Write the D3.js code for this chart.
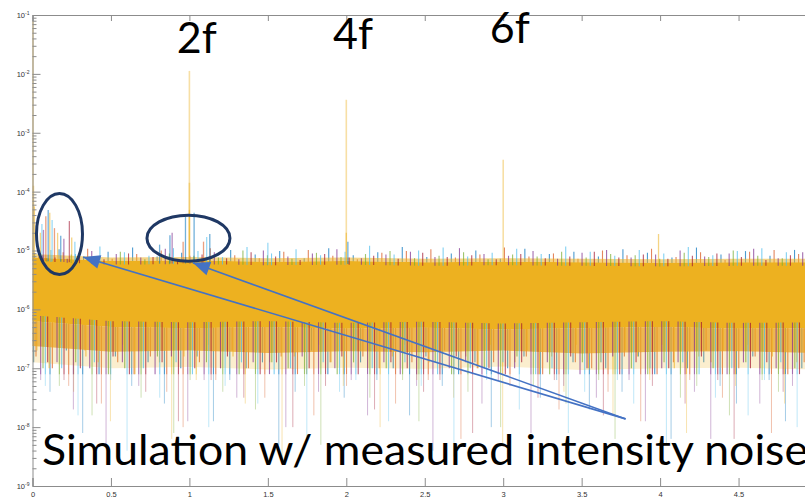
<!DOCTYPE html>
<html>
<head>
<meta charset="utf-8">
<script src="https://cdn.jsdelivr.net/npm/d3@7"></script>
<style>
  body { margin: 0; background: #fff; }
  svg { display: block; }
</style>
</head>
<body>
<div id="chart"></div>
<script>
// all values are log10 of the spectral power
const xTicks = [0, 0.5, 1, 1.5, 2, 2.5, 3, 3.5, 4, 4.5];
const yTickExp = [-9, -8, -7, -6, -5, -4, -3, -2, -1];

// solid core of the noise floor and its ragged edges
const bandFreq = [0, 0.5, 1, 1.5, 2, 2.5, 3, 3.5, 4, 4.5, 5];
const bandTopExp = [-5.12, -5.18, -5.17, -5.19, -5.18, -5.2, -5.19, -5.2, -5.21, -5.2, -5.2];
const bandBottomExp = [-6.2, -6.3, -6.32, -6.3, -6.33, -6.31, -6.34, -6.32, -6.3, -6.33, -6.32];
const fringeUpExp = [-5.06, -5.12, -5.11, -5.13, -5.12, -5.14, -5.13, -5.14, -5.15, -5.14, -5.14];
const fringeLowExp = [-6.62, -6.72, -6.7, -6.74, -6.71, -6.73, -6.7, -6.75, -6.72, -6.71, -6.74];
const fringeFarExp = [-6.9, -7.0, -6.98, -7.02, -6.99, -7.01, -6.97, -7.03, -7.0, -6.99, -7.02];

// lower noise tips, one array per run
const lowBlue = [-6.9,-7.4,-6.7,-8.1,-7.1,-6.8,-7.3,-6.9,-7.6,-7.0,-6.8,-7.9,-7.2,-7.0,-6.9,-8.3,-7.4,-6.7,-7.1,-7.5,-6.9,-7.2,-7.0,-7.8,-6.8,-7.3,-7.1,-6.9,-8.0,-7.0,-6.8,-7.5,-7.2,-6.9,-7.7,-7.0,-7.4,-6.8,-7.1,-8.2,-7.0,-6.9,-7.3,-7.6,-6.8,-7.2,-7.9,-7.0];
const lowRed = [-6.8,-7.0,-7.3,-6.7,-7.6,-6.9,-7.1,-6.8,-7.4,-8.0,-6.9,-7.2,-6.7,-7.0,-7.5,-6.8,-7.1,-7.8,-6.9,-7.3,-6.8,-7.0,-7.6,-6.9,-7.2,-6.7,-8.2,-7.0,-6.9,-7.3,-6.8,-7.1,-7.7,-6.9,-7.0,-7.4,-6.8,-7.9,-7.1,-6.9,-7.2,-6.7,-7.5,-7.0,-6.8,-8.1,-7.1,-6.9];
const lowYellow = [-6.7,-7.0,-6.6,-7.4,-6.8,-6.9,-7.9,-6.6,-7.1,-6.7,-6.9,-8.2,-6.8,-7.2,-6.6,-7.0,-6.8,-7.6,-6.7,-6.9,-8.6,-6.8,-7.1,-6.6,-6.9,-7.3,-6.7,-7.0,-8.0,-6.8,-6.6,-7.2,-6.9,-6.7,-7.5,-6.8,-7.0,-6.6,-8.3,-6.9,-6.7,-7.1,-6.8,-7.4,-6.6,-7.0,-6.9,-7.8,-6.7,-6.8,-7.2,-6.6,-7.0,-8.1,-6.8,-6.9,-6.7,-7.3,-6.6,-7.0,-6.8,-7.6,-6.9,-6.7];
const lowPurple = [-7.2,-6.9,-7.7,-7.0,-8.3,-6.9,-7.3,-7.1,-6.8,-7.9,-7.2,-7.0,-7.5,-6.9,-7.1,-8.0,-6.8,-7.4,-7.0,-7.2,-7.8,-6.9,-7.1,-7.3,-8.4,-7.0,-6.9,-7.6,-7.2,-7.0,-8.1,-6.9,-7.3,-7.1,-7.5,-6.8,-7.2,-7.9,-7.0,-6.9,-7.4,-8.2,-7.1,-6.9,-7.6,-7.0,-7.3,-8.0];
const lowGreen = [-7.0,-7.3,-6.9,-7.8,-7.1,-7.0,-7.5,-6.8,-8.1,-7.2,-6.9,-7.4,-7.1,-7.7,-6.9,-7.0,-7.3,-8.3,-7.1,-6.9,-7.5,-7.0,-7.2,-7.9,-6.9,-7.1,-7.4,-7.0,-8.0,-6.8,-7.3,-7.1,-7.6,-6.9,-7.2,-8.2,-7.0,-7.1,-6.9,-7.5,-7.3,-7.0,-7.8,-6.9,-7.2,-7.4,-7.0,-8.1];
const lowCyan = [-7.3,-7.0,-7.8,-6.9,-7.2,-8.4,-7.0,-7.5,-6.9,-7.1,-8.0,-7.3,-6.9,-7.6,-7.1,-7.0,-8.2,-6.9,-7.4,-7.2,-7.0,-7.9,-6.9,-7.3,-7.1,-8.5,-7.0,-7.2,-6.9,-7.7,-7.1,-7.0,-8.1,-7.4,-6.9,-7.2,-7.6,-7.0,-8.3,-6.9,-7.1,-7.5,-7.0,-7.8,-7.2,-6.9,-8.0,-7.1];
const lowMaroon = [-6.9,-7.2,-7.0,-7.6,-6.8,-7.1,-7.4,-6.9,-7.9,-7.0,-7.2,-6.8,-7.5,-7.1,-6.9,-8.0,-7.0,-7.3,-6.8,-7.1,-7.7,-6.9,-7.0,-7.4,-7.2,-6.8,-8.1,-7.0,-7.1,-6.9,-7.5,-7.2,-6.8,-7.0,-7.8,-7.1,-6.9,-7.3,-7.0,-7.6,-6.8,-7.2,-8.2,-7.0,-6.9,-7.4,-7.1,-6.8];

// upper noise tips
const upBlue = [-5.05,-4.98,-5.12,-5.02,-4.95,-5.10,-5.04,-5.15,-4.99,-5.07,-5.01,-5.13,-4.96,-5.08,-5.03,-4.94,-5.11,-5.05,-5.00,-5.14,-4.97,-5.06,-5.02,-5.10,-4.98,-5.04,-5.12,-4.95,-5.07,-5.01,-5.09,-4.99];
const upRed = [-5.10,-5.03,-4.97,-5.14,-5.06,-5.00,-5.11,-4.96,-5.08,-5.13,-5.02,-4.99,-5.09,-5.15,-5.04,-5.01,-4.98,-5.12,-5.07,-4.95,-5.10,-5.05,-5.14,-5.00,-5.08,-4.97,-5.11,-5.03,-5.16,-5.02,-4.99,-5.06];
const upPurple = [-5.08,-5.14,-5.01,-5.06,-5.12,-4.97,-5.09,-5.03,-5.15,-5.00,-5.10,-5.05,-4.98,-5.13,-5.07,-5.02,-5.11,-4.96,-5.06,-5.09,-5.01,-5.14,-5.04,-4.99,-5.12,-5.07,-5.00,-5.10,-5.05,-4.97,-5.13,-5.03];
const upGreen = [-5.13,-5.07,-5.10,-5.02,-5.15,-5.05,-5.09,-5.12,-5.00,-5.08,-5.14,-5.04,-5.11,-5.06,-5.01,-5.13,-5.09,-5.03,-5.15,-5.07,-5.10,-5.02,-5.12,-5.06,-5.08,-5.14,-5.04,-5.11,-5.00,-5.09,-5.13,-5.05];
const upCyan = [-4.99,-5.06,-4.93,-5.03,-5.09,-4.96,-5.01,-5.11,-4.94,-5.05,-4.98,-5.08,-5.02,-4.92,-5.07,-5.00,-4.95,-5.10,-5.04,-4.97,-5.06,-4.93,-5.02,-5.09,-4.99,-5.05,-4.94,-5.08,-5.01,-4.96,-5.03,-5.07];
const upMaroon = [-5.12,-5.08,-5.15,-5.05,-5.11,-5.17,-5.07,-5.13,-5.03,-5.10,-5.16,-5.06,-5.12,-5.09,-5.14,-5.04,-5.11,-5.08,-5.15,-5.06,-5.13,-5.10,-5.02,-5.12,-5.07,-5.14,-5.09,-5.05,-5.11,-5.16,-5.08,-5.13];

// harmonic lines and sidebands
const peakFreq = [0.003,0.006,0.012,0.05,0.06,0.07,0.085,0.10,0.11,0.125,0.14,0.16,0.18,0.20,0.235,0.25,0.27,0.81,0.876,0.89,0.96,0.975,1.0,1.0,1.0,1.03,1.09,1.11,1.13,1.5,2.0,2.0,2.01,3.0,3.99];
const peakExp = [-1.1,-3.9,-4.25,-4.7,-4.55,-4.65,-4.42,-4.31,-4.36,-4.48,-4.62,-4.7,-4.75,-4.8,-4.5,-4.78,-4.85,-4.9,-4.74,-4.7,-4.85,-4.43,-1.95,-3.85,-4.31,-4.36,-4.85,-4.77,-4.72,-4.87,-2.44,-4.7,-4.85,-3.46,-4.72];
const peakColor = ["yellow","yellow","yellow","yellow","cyan","purple","red","blue","yellow","cyan","red","yellow","blue","purple","maroon","yellow","cyan","blue","blue","purple","red","blue","yellow","yellow","yellow","blue","red","cyan","blue","cyan","yellow","yellow","blue","yellow","yellow"];

const colors = {
  blue: "#0072BD", red: "#D95319", yellow: "#EDB120", purple: "#7E2F8E",
  green: "#77AC30", cyan: "#4DBEEE", maroon: "#A2142F"
};

const width = 805, height = 504;
const fMax = 5;
const x = d3.scaleLinear().domain([0, fMax]).range([32.5, 817]);
const y = d3.scaleLog().domain([1e-9, 1e-1]).range([486, 15]);
const p = e => Math.pow(10, e);

const svg = d3.select("#chart").append("svg")
  .attr("width", width).attr("height", height);

svg.append("rect").attr("width", width).attr("height", height).attr("fill", "#fff");

svg.append("defs").append("marker")
  .attr("id", "head")
  .attr("markerUnits", "userSpaceOnUse")
  .attr("markerWidth", 20).attr("markerHeight", 20)
  .attr("refX", 0).attr("refY", 0)
  .attr("viewBox", "0 -10 20 20")
  .attr("orient", "auto")
  .append("path")
  .attr("d", "M0,0L17,-7L17,7Z")
  .attr("fill", "#4472C4");

const plot = svg.append("g");

const bandTopAt = d3.scaleLinear().domain(bandFreq).range(bandTopExp);
const bandBotAt = d3.scaleLinear().domain(bandFreq).range(bandBottomExp);
const deep = -7.1;

function lowStems(g, vals, color, slot, slots) {
  const n = vals.length;
  const pts = vals.map((v, i) => ({ f: (i + (slot + 0.5) / slots) * fMax / n, v }));
  g.selectAll(null).data(pts).enter().append("line")
    .attr("x1", d => x(d.f)).attr("x2", d => x(d.f))
    .attr("y1", d => y(p(bandBotAt(d.f) + 0.1)))
    .attr("y2", d => y(p(Math.max(d.v, deep))))
    .attr("stroke", color).attr("stroke-width", 1.1).attr("opacity", 0.7);
  g.selectAll(null).data(pts.filter(d => d.v < deep)).enter().append("line")
    .attr("x1", d => x(d.f)).attr("x2", d => x(d.f))
    .attr("y1", d => y(p(deep)))
    .attr("y2", d => y(p(d.v)))
    .attr("stroke", color).attr("stroke-width", 1).attr("opacity", 0.35);
}

function upStems(g, vals, color, slot, slots) {
  const n = vals.length;
  const pts = vals.map((v, i) => ({ f: (i + (slot + 0.5) / slots) * fMax / n, v }));
  g.selectAll(null).data(pts).enter().append("line")
    .attr("x1", d => x(d.f)).attr("x2", d => x(d.f))
    .attr("y1", d => y(p(bandTopAt(d.f) - 0.06)))
    .attr("y2", d => y(p(d.v)))
    .attr("stroke", color).attr("stroke-width", 1.1).attr("opacity", 0.7);
}

// runs 1-2 sit under the yellow run, the rest on top
lowStems(plot.append("g"), lowBlue, colors.blue, 0, 7);
lowStems(plot.append("g"), lowRed, colors.red, 1, 7);
upStems(plot.append("g"), upBlue, colors.blue, 0, 6);
upStems(plot.append("g"), upRed, colors.red, 1, 6);

const band = bandFreq.map((f, i) => ({
  f, t: bandTopExp[i], b: bandBottomExp[i],
  ft: fringeUpExp[i], fb: fringeLowExp[i], ff: fringeFarExp[i]
}));

// ragged edges: partly covered zone above and below the core
plot.append("path").datum(band)
  .attr("fill", colors.yellow).attr("opacity", 0.55)
  .attr("d", d3.area().x(d => x(d.f)).y0(d => y(p(d.t))).y1(d => y(p(d.ft))));
plot.append("path").datum(band)
  .attr("fill", colors.yellow).attr("opacity", 0.22)
  .attr("d", d3.area().x(d => x(d.f)).y0(d => y(p(d.ff))).y1(d => y(p(d.fb))));
plot.append("path").datum(band)
  .attr("fill", colors.yellow).attr("opacity", 0.75)
  .attr("d", d3.area().x(d => x(d.f)).y0(d => y(p(d.fb))).y1(d => y(p(d.b))));
plot.append("path").datum(band)
  .attr("fill", colors.red).attr("opacity", 0.12)
  .attr("d", d3.area().x(d => x(d.f)).y0(d => y(p(d.fb))).y1(d => y(p(d.b + 0.08))));

plot.append("path").datum(band)
  .attr("fill", colors.yellow)
  .attr("d", d3.area().x(d => x(d.f)).y0(d => y(p(d.b))).y1(d => y(p(d.t))));

lowStems(plot.append("g"), lowYellow, colors.yellow, 2, 7);

lowStems(plot.append("g"), lowPurple, colors.purple, 3, 7);
lowStems(plot.append("g"), lowGreen, colors.green, 4, 7);
lowStems(plot.append("g"), lowCyan, colors.cyan, 5, 7);
lowStems(plot.append("g"), lowMaroon, colors.maroon, 6, 7);
upStems(plot.append("g"), upPurple, colors.purple, 2, 6);
upStems(plot.append("g"), upGreen, colors.green, 3, 6);
upStems(plot.append("g"), upCyan, colors.cyan, 4, 6);
upStems(plot.append("g"), upMaroon, colors.maroon, 5, 6);

plot.append("g").selectAll("line")
  .data(peakFreq.map((f, i) => ({ f, v: peakExp[i], c: colors[peakColor[i]] })))
  .enter().append("line")
  .attr("x1", d => x(d.f)).attr("x2", d => x(d.f))
  .attr("y1", d => y(p(bandTopAt(d.f) - 0.05)))
  .attr("y2", d => y(p(d.v)))
  .attr("stroke", d => d.c)
  .attr("stroke-width", d => d.v > -4 ? 1.6 : 1.3)
  .attr("opacity", d => d.v > -4 ? 0.4 : 0.55);

// axes, MATLAB style with inward ticks
const axisColor = "#8c8c8c";
const styleAxis = g => {
  g.select(".domain").attr("stroke", axisColor);
  g.selectAll(".tick line").attr("stroke", axisColor);
  g.selectAll(".tick text").attr("fill", "#333")
    .attr("font-family", "Liberation Sans, Arial, sans-serif").attr("font-size", 7.5);
};

svg.append("g").attr("transform", `translate(0,${y(1e-9)})`)
  .call(d3.axisBottom(x).tickValues(xTicks).tickSize(-8).tickPadding(6).tickFormat(d => String(d)))
  .call(styleAxis);

svg.append("g").attr("transform", `translate(0,${y(1e-1)})`)
  .call(d3.axisTop(x).tickValues(xTicks).tickSize(-6).tickFormat(""))
  .call(styleAxis);

const minors = [];
yTickExp.slice(0, -1).forEach(e => { for (let k = 2; k < 10; k++) minors.push(k * p(e)); });

svg.append("g").attr("transform", `translate(${x(0)},0)`)
  .call(d3.axisLeft(y).tickValues(minors).tickSize(-4).tickFormat(""))
  .call(g => g.select(".domain").remove())
  .call(styleAxis);

svg.append("g").attr("transform", `translate(${x(0)},0)`)
  .call(d3.axisLeft(y).tickValues(yTickExp.map(p)).tickSize(-8).tickPadding(3).tickFormat(""))
  .call(styleAxis)
  .call(g => g.selectAll(".tick text").each(function (d, i) {
    const t = d3.select(this);
    t.append("tspan").text("10");
    t.append("tspan").attr("dy", -3).attr("font-size", 5).text(String(yTickExp[i]));
  }));

// annotations placed in data units
const ann = svg.append("g").attr("font-family", "Lato, 'Open Sans', sans-serif").attr("fill", "#000");
const harmonicLabels = [["2f", 0.92, -1.645], ["4f", 1.915, -1.58], ["6f", 2.915, -1.475]];
ann.selectAll(".h").data(harmonicLabels).enter().append("text")
  .attr("x", d => x(d[1])).attr("y", d => y(p(d[2])))
  .attr("font-size", 43).text(d => d[0]);

ann.append("text")
  .attr("x", x(0.06)).attr("y", y(p(-8.64)))
  .attr("font-size", 42)
  .attr("textLength", 766).attr("lengthAdjust", "spacingAndGlyphs")
  .text("Simulation w/ measured intensity noise");

const ellipses = [[0.172, -4.72, 23, 40.5], [0.994, -4.79, 41.5, 23]];
svg.append("g").selectAll("ellipse").data(ellipses).enter().append("ellipse")
  .attr("cx", d => x(d[0])).attr("cy", d => y(p(d[1])))
  .attr("rx", d => d[2]).attr("ry", d => d[3])
  .attr("fill", "none").attr("stroke", "#1F3864").attr("stroke-width", 3);

const arrowFrom = [3.78, -7.86];
const arrowTo = [[0.322, -5.11], [1.022, -5.21]];
svg.append("g").selectAll("line").data(arrowTo).enter().append("line")
  .attr("x1", d => x(d[0])).attr("y1", d => y(p(d[1])))
  .attr("x2", x(arrowFrom[0])).attr("y2", y(p(arrowFrom[1])))
  .attr("stroke", "#4472C4").attr("stroke-width", 1.6)
  .attr("marker-start", "url(#head)");
</script>
</body>
</html>
